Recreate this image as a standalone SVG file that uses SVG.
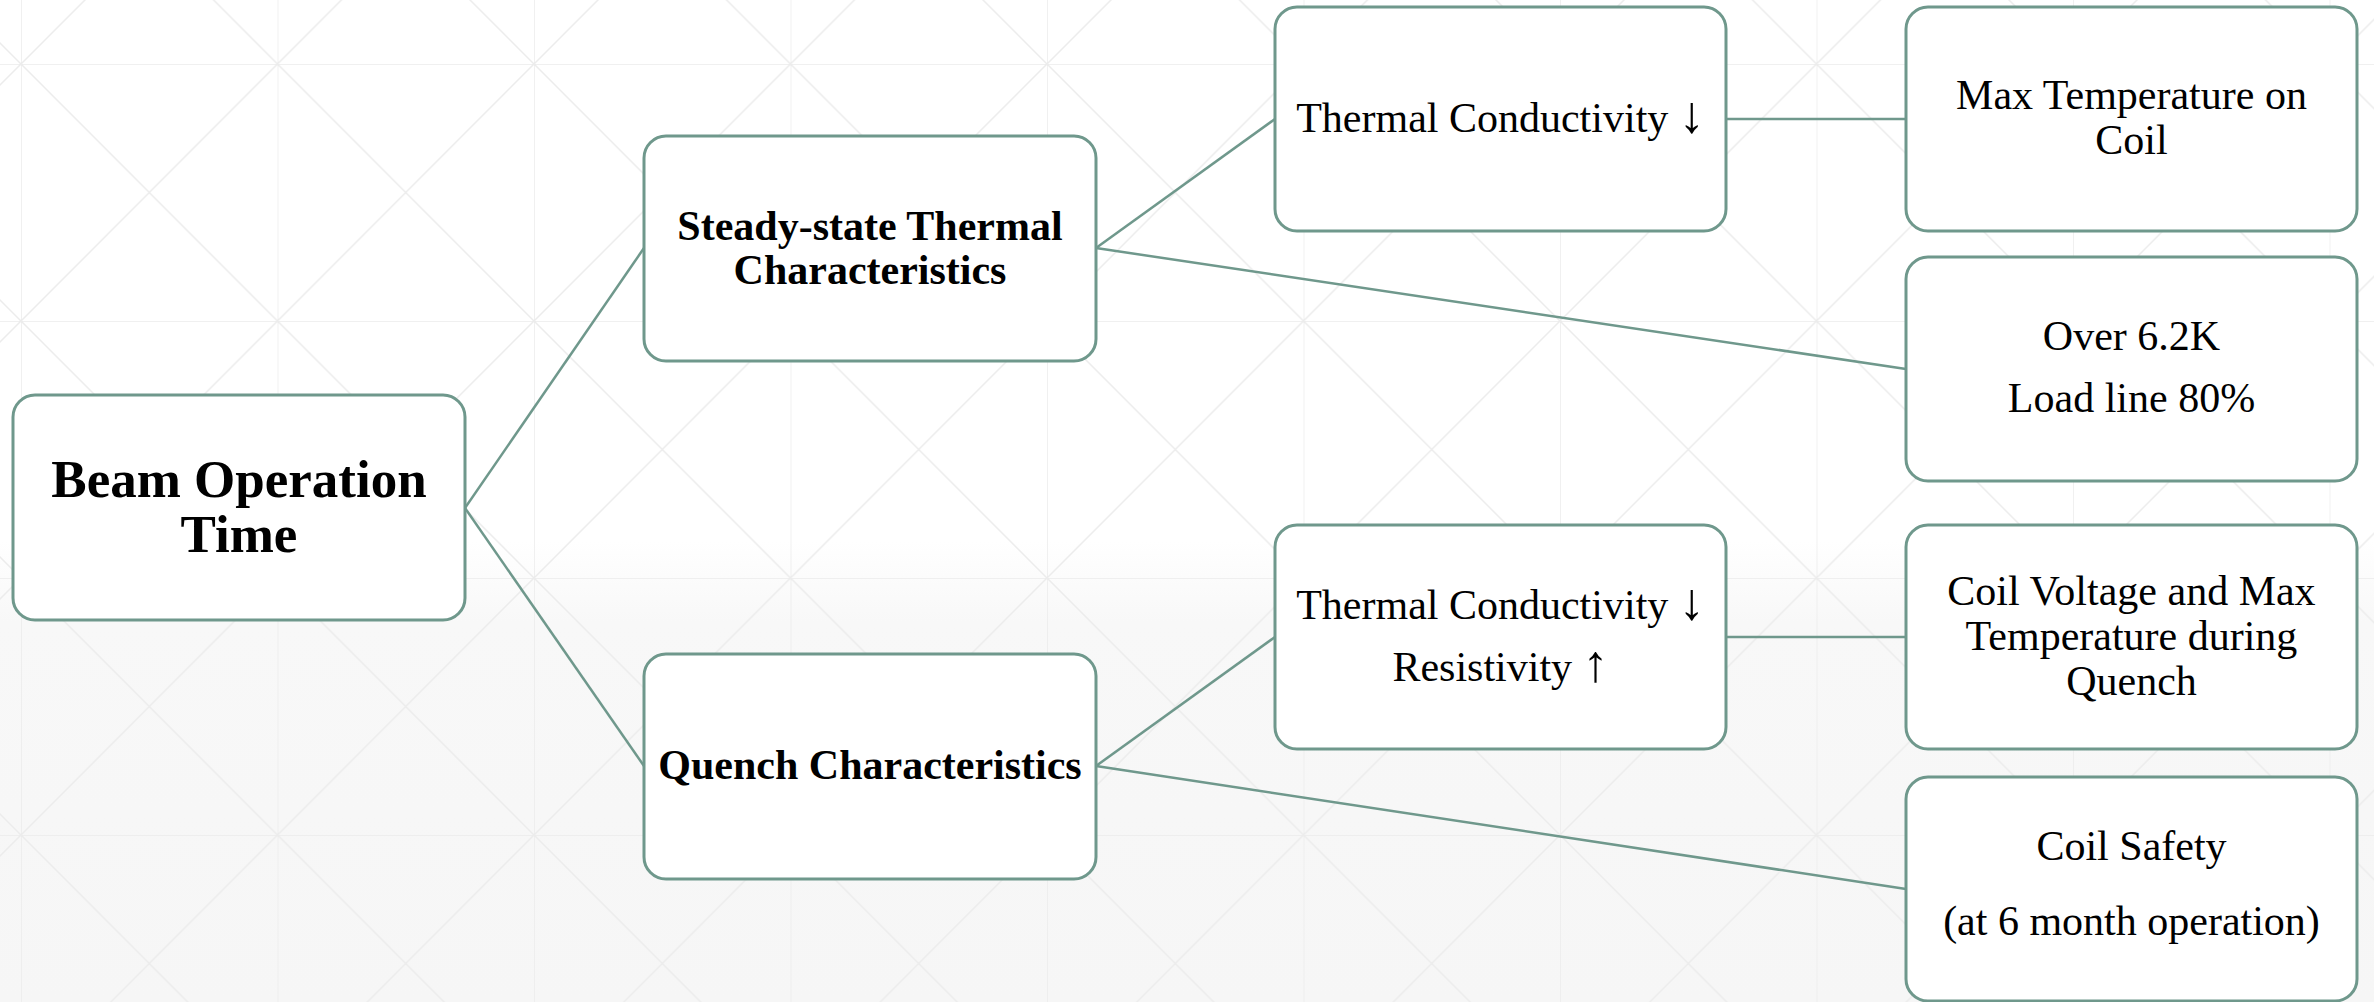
<svg xmlns="http://www.w3.org/2000/svg" width="2374" height="1002" viewBox="0 0 2374 1002">
<defs>
<linearGradient id="bg" x1="0" y1="0" x2="0" y2="1">
<stop offset="0" stop-color="#ffffff"/>
<stop offset="0.54" stop-color="#ffffff"/>
<stop offset="0.62" stop-color="#f8f8f8"/>
<stop offset="1" stop-color="#f6f6f6"/>
</linearGradient>
<pattern id="grid" x="21" y="64" width="256.5" height="257" patternUnits="userSpaceOnUse">
<path d="M0 0H256.5M0 0V257M0 0L256.5 257M256.5 0L0 257" fill="none" stroke="#ececec" stroke-width="1.5"/>
</pattern>
<style>
.box{fill:#ffffff;stroke:#6f988c;stroke-width:3}
.con{fill:none;stroke:#6f988c;stroke-width:2.5}
text{font-family:"Liberation Serif","Times New Roman",serif;fill:#000000;text-anchor:middle}
.b{font-weight:bold;font-size:42px}
.r{font-size:42px}
.big{font-weight:bold;font-size:53px}
.arr{font-size:52px}
</style>
</defs>
<rect width="2374" height="1002" fill="url(#bg)"/>
<rect width="2374" height="1002" fill="url(#grid)"/>
<g id="connectors">
<line class="con" x1="465" y1="508" x2="644" y2="248"/>
<line class="con" x1="465" y1="508" x2="644" y2="766"/>
<line class="con" x1="1096" y1="248" x2="1275" y2="119"/>
<line class="con" x1="1096" y1="248" x2="1906" y2="369"/>
<line class="con" x1="1726" y1="119" x2="1906" y2="119"/>
<line class="con" x1="1096" y1="766" x2="1275" y2="637"/>
<line class="con" x1="1096" y1="766" x2="1906" y2="889"/>
<line class="con" x1="1726" y1="637" x2="1906" y2="637"/>
</g>
<g id="root">
<rect class="box" x="13" y="395" width="452" height="225" rx="22"/>
<text class="big" x="239" y="497">Beam Operation</text>
<text class="big" x="239" y="552">Time</text>
</g>
<g id="steady">
<rect class="box" x="644" y="136" width="452" height="225" rx="22"/>
<text class="b" x="870" y="240">Steady-state Thermal</text>
<text class="b" x="870" y="284">Characteristics</text>
</g>
<g id="quench">
<rect class="box" x="644" y="654" width="452" height="225" rx="22"/>
<text class="b" x="870" y="779">Quench Characteristics</text>
</g>
<g id="thermal1">
<rect class="box" x="1275" y="7" width="451" height="224" rx="22"/>
<text class="r" x="1500.5" y="132">Thermal Conductivity <tspan class="arr">↓</tspan></text>
</g>
<g id="thermal2">
<rect class="box" x="1275" y="525" width="451" height="224" rx="22"/>
<text class="r" x="1500.5" y="619">Thermal Conductivity <tspan class="arr">↓</tspan></text>
<text class="r" x="1500.5" y="681">Resistivity <tspan class="arr">↑</tspan></text>
</g>
<g id="maxtemp">
<rect class="box" x="1906" y="7" width="451" height="224" rx="22"/>
<text class="r" x="2131.5" y="109">Max Temperature on</text>
<text class="r" x="2131.5" y="154">Coil</text>
</g>
<g id="over">
<rect class="box" x="1906" y="257" width="451" height="224" rx="22"/>
<text class="r" x="2131.5" y="350">Over 6.2K</text>
<text class="r" x="2131.5" y="412">Load line 80%</text>
</g>
<g id="coilvoltage">
<rect class="box" x="1906" y="525" width="451" height="224" rx="22"/>
<text class="r" x="2131.5" y="605">Coil Voltage and Max</text>
<text class="r" x="2131.5" y="650">Temperature during</text>
<text class="r" x="2131.5" y="695">Quench</text>
</g>
<g id="coilsafety">
<rect class="box" x="1906" y="777" width="451" height="224" rx="22"/>
<text class="r" x="2131.5" y="860">Coil Safety</text>
<text class="r" x="2131.5" y="935">(at 6 month operation)</text>
</g>
</svg>
